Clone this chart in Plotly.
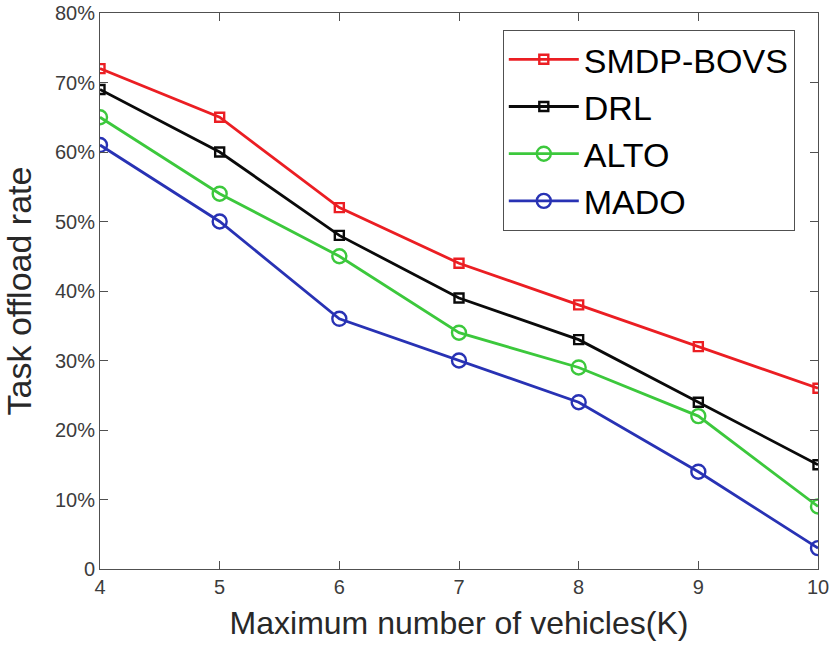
import plotly.graph_objects as go

vehicles = [4, 5, 6, 7, 8, 9, 10]
smdp_bovs = [0.72, 0.65, 0.52, 0.44, 0.38, 0.32, 0.26]
drl = [0.69, 0.60, 0.48, 0.39, 0.33, 0.24, 0.15]
alto = [0.65, 0.54, 0.45, 0.34, 0.29, 0.22, 0.09]
mado = [0.61, 0.50, 0.36, 0.30, 0.24, 0.14, 0.03]

y_tickvals = [0, 0.1, 0.2, 0.3, 0.4, 0.5, 0.6, 0.7, 0.8]
y_ticktext = ["0", "10%", "20%", "30%", "40%", "50%", "60%", "70%", "80%"]

series = [
    ("SMDP-BOVS", smdp_bovs, "rgb(235,30,35)", "square-open", 9),
    ("DRL", drl, "rgb(10,10,10)", "square-open", 9),
    ("ALTO", alto, "rgb(60,200,60)", "circle-open", 14),
    ("MADO", mado, "rgb(40,50,180)", "circle-open", 14),
]

fig = go.Figure()
for name, vals, color, sym, sz in series:
    fig.add_trace(go.Scatter(
        x=vehicles, y=vals, name=name, mode="lines+markers",
        line=dict(color=color, width=2.8),
        marker=dict(symbol=sym, size=sz, color=color, line=dict(color=color, width=2.4)),
    ))

axis_common = dict(
    showline=True, linecolor="rgb(80,80,80)", linewidth=1, mirror="ticks",
    ticks="inside", ticklen=8, tickcolor="rgb(80,80,80)", showgrid=False, zeroline=False,
    automargin=False,
    tickfont=dict(family="Liberation Sans, Arial", size=20, color="rgb(60,60,60)"),
)

fig.update_layout(
    width=833, height=655,
    margin=dict(l=100, r=15, t=13, b=86),
    plot_bgcolor="white", paper_bgcolor="white",
    xaxis=dict(range=[4, 10], tickvals=vehicles,
               title=dict(text="Maximum number of vehicles(K)", standoff=14,
                          font=dict(family="Liberation Sans, Arial", size=32, color="rgb(40,40,40)")),
               **axis_common),
    yaxis=dict(range=[0, 0.8], tickvals=y_tickvals, ticktext=y_ticktext,
               title=dict(text="Task offload rate", standoff=16,
                          font=dict(family="Liberation Sans, Arial", size=34, color="rgb(40,40,40)")),
               **axis_common),
    legend=dict(x=0.561, y=0.97, xanchor="left", yanchor="top", itemwidth=70,
                bgcolor="white", bordercolor="rgb(80,80,80)", borderwidth=1,
                font=dict(family="Liberation Sans, Arial", size=34, color="black")),
)

fig.write_html("out.html")
